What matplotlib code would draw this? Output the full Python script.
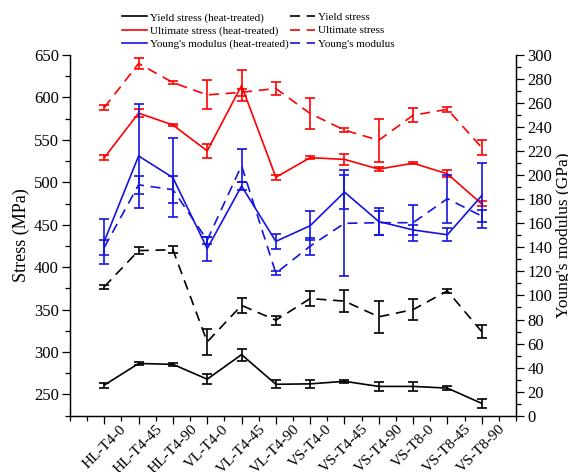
import matplotlib.pyplot as plt
from matplotlib.ticker import MultipleLocator
from matplotlib.transforms import ScaledTranslation
import numpy as np

samples = ['HL-T4-0', 'HL-T4-45', 'HL-T4-90', 'VL-T4-0', 'VL-T4-45', 'VL-T4-90',
           'VS-T4-0', 'VS-T4-45', 'VS-T4-90', 'VS-T8-0', 'VS-T8-45', 'VS-T8-90']

# stresses in MPa (left axis)
yield_ht = [261, 286.5, 285.5, 268, 297, 262, 262.5, 265.5, 259.5, 259.5, 257.5, 239.5]
yield_ht_err = [3, 1.5, 1.5, 6, 7, 4.5, 4.5, 1.5, 5.5, 5, 2.5, 5.5]
yield_ab = [377, 419.5, 420.5, 312, 355, 337.5, 363, 360, 341.5, 350, 372, 324]
yield_ab_err = [2.5, 4.5, 4, 15, 9, 5.5, 8.5, 13, 19, 12, 2, 8]

ultimate_ht = [529, 581.5, 567.5, 537, 614, 506, 529, 527, 515.5, 522.5, 510, 474.5]
ultimate_ht_err = [3, 5, 1.5, 8, 18, 3, 1.5, 6.5, 2.5, 1.5, 4, 3]
ultimate_ab = [588, 640, 617.5, 603, 606, 610.5, 581, 561.5, 549.5, 579, 586, 541]
ultimate_ab_err = [2.5, 6.7, 2, 17, 4.5, 8, 18, 2.5, 25, 8, 3, 9]

# Young's modulus in GPa (right axis)
young_ht = [145, 216, 198, 139, 191, 145, 158, 186, 161.5, 154.5, 150.5, 183]
young_ht_err = [19, 43, 33, 10, 3.5, 6, 12, 14, 11.5, 4.5, 5.5, 27]
young_ab = [140, 192, 188, 146, 208, 118.5, 141, 160, 160.5, 160.5, 180.5, 166]
young_ab_err = [6, 7.6, 11, 3, 14, 1.5, 7, 44, 10, 15, 20, 5]

plt.rcParams['font.family'] = ['Liberation Serif', 'DejaVu Serif']

RED = '#ff0000'
BLUE = '#1414e0'
LW = 1.2


def draw_series(axis, x, values, errors, color, dashed, label):
    style = dict(color=color, linewidth=LW)
    if dashed:
        axis.plot(x, values, dashes=(6, 4), label=label, **style)
    else:
        axis.plot(x, values, label=label, **style)
    axis.errorbar(x, values, yerr=errors, fmt='none', ecolor=color,
                  elinewidth=LW, capsize=3.5, capthick=LW)


fig = plt.figure(figsize=(5.68, 4.72), dpi=100)
ax = fig.add_axes([0.1232, 0.1193, 0.7853, 0.7642])
ax2 = ax.twinx()
x = np.arange(len(samples))

draw_series(ax, x, yield_ht, yield_ht_err, 'black', False, 'Yield stress (heat-treated)')
draw_series(ax, x, ultimate_ht, ultimate_ht_err, RED, False, 'Ultimate stress (heat-treated)')
draw_series(ax2, x, young_ht, young_ht_err, BLUE, False, "Young's modulus (heat-treated)")
draw_series(ax, x, yield_ab, yield_ab_err, 'black', True, 'Yield stress')
draw_series(ax, x, ultimate_ab, ultimate_ab_err, RED, True, 'Ultimate stress')
draw_series(ax2, x, young_ab, young_ab_err, BLUE, True, "Young's modulus")

ax.set_xlim(-1, 12)
ax.set_ylim(225, 650)
ax2.set_ylim(0, 300)

ax.set_xticks(x)
ax.set_xticklabels(samples, rotation=45, ha='center', va='top', fontsize=11)
shift = ScaledTranslation(-6 / 100, 0, fig.dpi_scale_trans)
for lbl in ax.get_xticklabels():
    lbl.set_transform(lbl.get_transform() + shift)
ax.xaxis.set_minor_locator(MultipleLocator(0.5))
ax.set_yticks(np.arange(250, 651, 50))
ax.yaxis.set_minor_locator(MultipleLocator(25))
ax2.set_yticks(np.arange(0, 301, 20))
ax2.yaxis.set_minor_locator(MultipleLocator(10))

for a in (ax, ax2):
    a.spines['top'].set_visible(False)
    for s in a.spines.values():
        s.set_linewidth(0.9)
    a.tick_params(which='major', direction='out', length=6, width=0.9, pad=2)
    a.tick_params(which='minor', direction='out', length=3.5, width=0.9)
    a.tick_params(axis='y', labelsize=12)
ax.tick_params(axis='x', pad=-1)

ax.set_ylabel('Stress (MPa)', fontsize=13, labelpad=3)
ax2.set_ylabel("Young's modulus (GPa)", fontsize=12.5, labelpad=3)

h1, l1 = ax.get_legend_handles_labels()
h2, l2 = ax2.get_legend_handles_labels()
handles = dict(zip(l1 + l2, h1 + h2))
order = ['Yield stress (heat-treated)', 'Ultimate stress (heat-treated)',
         "Young's modulus (heat-treated)", 'Yield stress', 'Ultimate stress',
         "Young's modulus"]
fig.legend([handles[k] for k in order], order, ncol=2, frameon=False,
           loc='upper left', bbox_to_anchor=(116 / 568, 1 - 7 / 472),
           fontsize=8, borderpad=0, handlelength=2.3, handletextpad=0.25,
           columnspacing=0.1, labelspacing=0.3)

fig.savefig('out.png', dpi=100)
